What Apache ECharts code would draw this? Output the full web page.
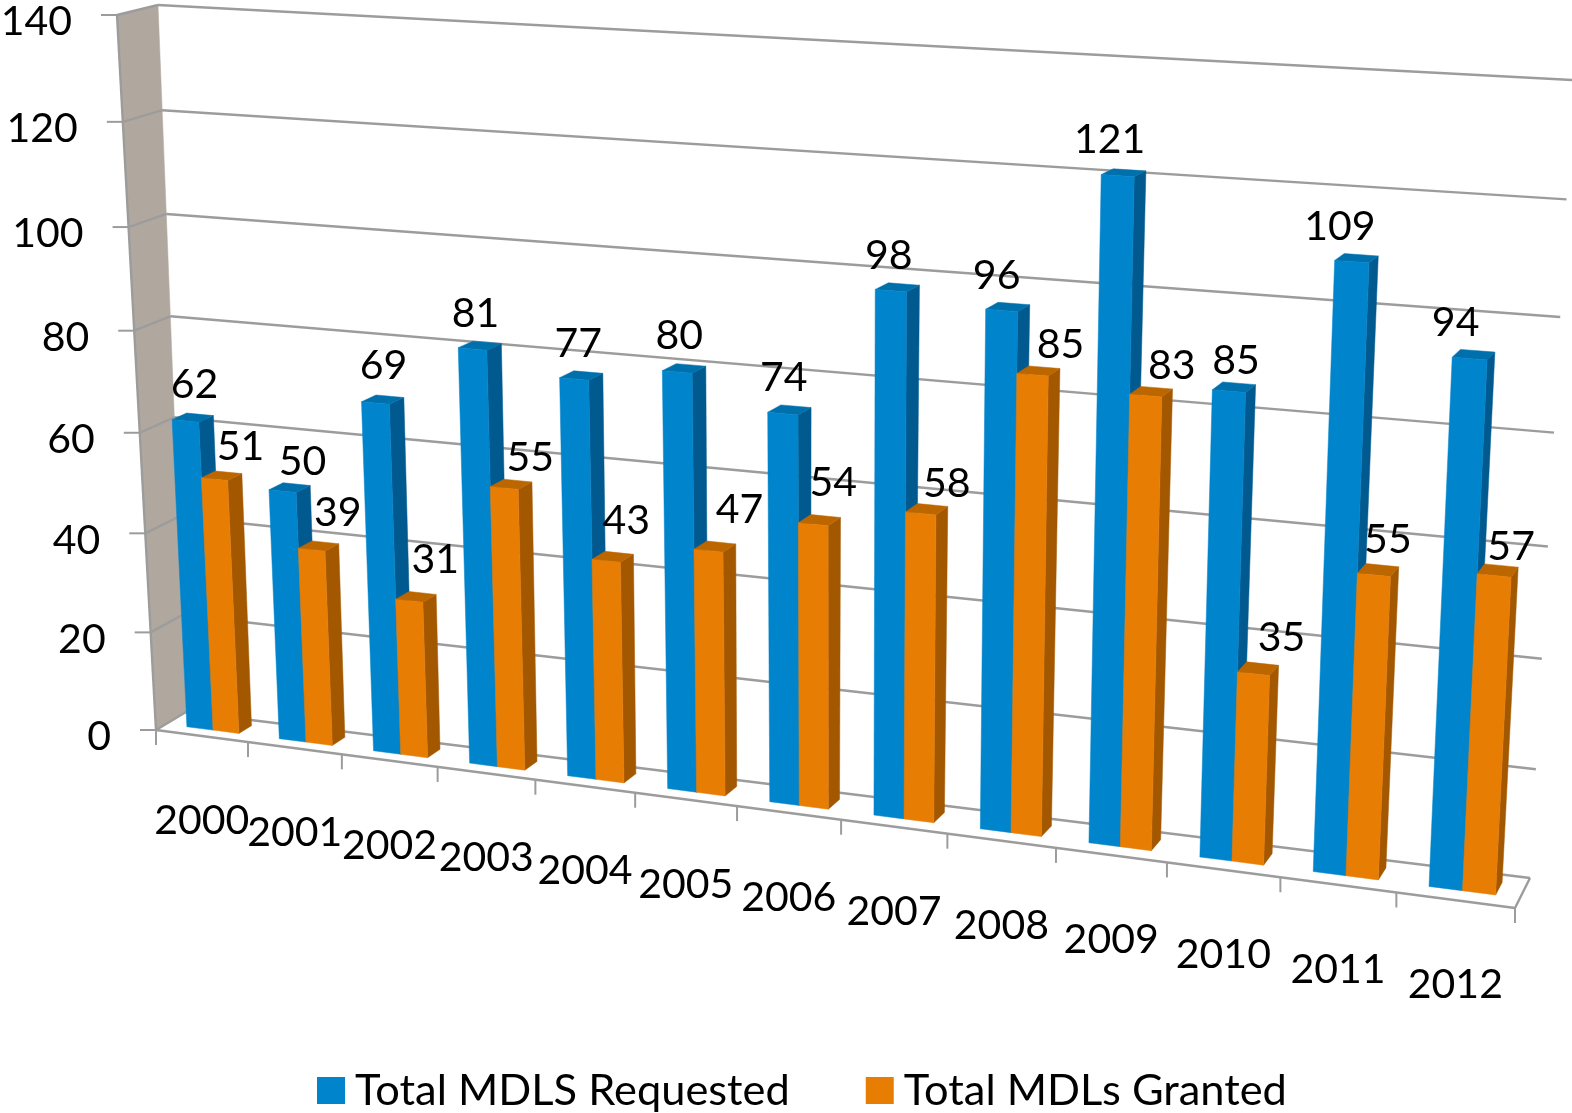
<!DOCTYPE html>
<html>
<head>
<meta charset="utf-8">
<style>html,body{margin:0;padding:0;background:#fff}#chart{width:1572px;height:1113px}</style>
<script src="https://cdn.jsdelivr.net/npm/echarts@6/dist/echarts.min.js"></script>
</head>
<body>
<div id="chart"></div>
<script>
const years = ['2000','2001','2002','2003','2004','2005','2006','2007','2008','2009','2010','2011','2012'];
const requested = [62,50,69,81,77,80,74,98,96,121,85,109,94];
const granted = [51,39,31,55,43,47,54,58,85,83,35,55,57];
const yTicks = [0,20,40,60,80,100,120,140];

// Per-label pixel nudges for the value labels (layout only, not data)
const requestedLabelDx = [9,20,8,3,4,2,1,-2,-5,-8,7,-12,-14];
const requestedLabelDy = [-3,4,-4,-2,-2,-3,-3,-2,-2,-3,3,-2,-3];
const grantedLabelDx = [5,5,5,5,-1,10,-1,5,7,5,7,-7,-4];
const grantedLabelDy = [-2,-7,-11,0,-10,-11,-11,0,0,0,-6,-5,1];

// Perspective of the plot box: front and back planes as screen quads (bottom-left, bottom-right, top-right, top-left)
function homography(q) {
  const [p0,p1,p2,p3] = q;
  const dx1=p1[0]-p2[0], dx2=p3[0]-p2[0], sx=p0[0]-p1[0]+p2[0]-p3[0];
  const dy1=p1[1]-p2[1], dy2=p3[1]-p2[1], sy=p0[1]-p1[1]+p2[1]-p3[1];
  const den=dx1*dy2-dx2*dy1;
  const g=(sx*dy2-dx2*sy)/den, h=(dx1*sy-sx*dy1)/den;
  const a=p1[0]-p0[0]+g*p1[0], b=p3[0]-p0[0]+h*p3[0], c=p0[0];
  const d=p1[1]-p0[1]+g*p1[1], e=p3[1]-p0[1]+h*p3[1], f=p0[1];
  return (u,v)=>{const w=g*u+h*v+1;return [(a*u+b*v+c)/w,(d*u+e*v+f)/w];};
}
const frontPlane = homography([[156,730],[1515,908],[1555,92],[117,15]]);
const backPlane  = homography([[186,712],[1530,878],[1573,80],[158,5]]);
function project(u,v,z){
  const F=frontPlane(u,v), B=backPlane(u,v);
  return [F[0]+(B[0]-F[0])*z, F[1]+(B[1]-F[1])*z];
}
// flat grid pixel -> normalized axis fractions
function fractions(cs, pt){ return [(pt[0]-cs.x)/cs.width, (cs.y+cs.height-pt[1])/cs.height]; }

const FONT = 'Lato';
const FS = 41;
const Z0 = 0.33, Z1 = 0.75;
const GRID = '#9c9c9c';

function poly(points, fill){ return {type:'polygon', shape:{points}, style:{fill, stroke:fill, lineWidth:0.5}}; }
function seg(a,b,w){ return {type:'line', shape:{x1:a[0],y1:a[1],x2:b[0],y2:b[1]}, style:{stroke:GRID,lineWidth:w||2.4}}; }
function txt(text,x,y,align){ return {type:'text', z2:10, style:{text,x,y,align:align||'center',verticalAlign:'middle',fontFamily:FONT,fontSize:FS,fill:'#000'}}; }

function barRenderer(offA, offB, cFront, cSide, cTop, dx, dy, ndx, ndy){
  return function(params, api){
    const cs = params.coordSys;
    const band = 1/years.length;
    const i = api.value(0);
    const top = fractions(cs, api.coord([i, api.value(1)]));
    const ub = i*band;
    const a = ub+offA*band, b = ub+offB*band, v = top[1];
    const fl0=project(a,0,Z0), fr0=project(b,0,Z0), br0=project(b,0,Z1);
    const flt=project(a,v,Z0), frt=project(b,v,Z0), brt=project(b,v,Z1), blt=project(a,v,Z1);
    return {type:'group', children:[
      poly([fr0,br0,brt,frt], cSide),
      poly([flt,frt,brt,blt], cTop),
      poly([fl0,fr0,frt,flt], cFront),
      txt(String(api.value(1)), (flt[0]+frt[0])/2+dx+ndx[i], (flt[1]+frt[1])/2+dy+ndy[i])
    ]};
  };
}

const option = {
  animation:false,
  backgroundColor:'#fff',
  grid:{left:200,top:100,width:1300,height:700,show:false},
  xAxis:{type:'category',data:years,show:false},
  yAxis:{type:'value',min:0,max:140,interval:20,show:false},
  legend:{
    data:['Total MDLS Requested','Total MDLs Granted'],
    left:312, top:1064, icon:'rect', itemWidth:28, itemHeight:27, itemGap:76, selectedMode:false,
    textStyle:{fontFamily:FONT,fontSize:43.4,color:'#000',padding:[0,0,0,5]}
  },
  series:[
    {name:'wall',type:'custom',coordinateSystem:'cartesian2d',z:1,silent:true,clip:false,
     data:[[0,0]],
     renderItem(params,api){
       const A=project(0,0,0),B=project(0,0,1),C=project(0,1,1),D=project(0,1,0);
       return {type:'group',children:[poly([A,B,C,D],'#b0a89f'),seg(A,D,2.4)]};
     }},
    {name:'value gridlines',type:'custom',coordinateSystem:'cartesian2d',z:2,silent:true,clip:false,
     data:yTicks.map(t=>[0,t]),encode:{x:0,y:1},
     renderItem(params,api){
       const v=fractions(params.coordSys,api.coord([0,api.value(1)]))[1];
       const f=project(0,v,0), b=project(0,v,1), r=project(1,v,1);
       return {type:'group',children:[
         seg([f[0]-16,f[1]],f,2), seg(f,b), seg(b,r),
         txt(String(api.value(1)),f[0]-45,f[1]+7,'right')
       ]};
     }},
    {name:'floor',type:'custom',coordinateSystem:'cartesian2d',z:2,silent:true,clip:false,
     data:[[0,0]],
     renderItem(){
       const A=project(0,0,0),B=project(1,0,0),C=project(1,0,1);
       return {type:'group',children:[seg(A,B),seg(B,C)]};
     }},
    {name:'category ticks',type:'custom',coordinateSystem:'cartesian2d',z:2,silent:true,clip:false,
     data:years.concat(['']).map((y,i)=>[i,y]),
     renderItem(params,api){
       const i=params.dataIndex, n=years.length;
       const p=project(i/n,0,0), c=project((i+0.5)/n,0,0);
       const kids=[seg(p,[p[0],p[1]+15],2)];
       if(i<n) kids.push(txt(years[i],c[0],c[1]+85));
       return {type:'group',children:kids};
     }},
    {name:'Total MDLS Requested',type:'custom',coordinateSystem:'cartesian2d',z:3,silent:true,clip:false,
     itemStyle:{color:'#0084cc'},
     data:requested.map((v,i)=>[i,v]),encode:{x:0,y:1},
     renderItem:barRenderer(0.23,0.515,'#0084cc','#005a8f','#0070ad',0,-33,requestedLabelDx,requestedLabelDy)},
    {name:'Total MDLs Granted',type:'custom',coordinateSystem:'cartesian2d',z:4,silent:true,clip:false,
     itemStyle:{color:'#e87d04'},
     data:granted.map((v,i)=>[i,v]),encode:{x:0,y:1},
     renderItem:barRenderer(0.515,0.795,'#e87d04','#a35800','#bc6600',21,-30,grantedLabelDx,grantedLabelDy)}
  ]
};
echarts.init(document.getElementById('chart'),null,{renderer:'canvas'}).setOption(option);
</script>
</body>
</html>
